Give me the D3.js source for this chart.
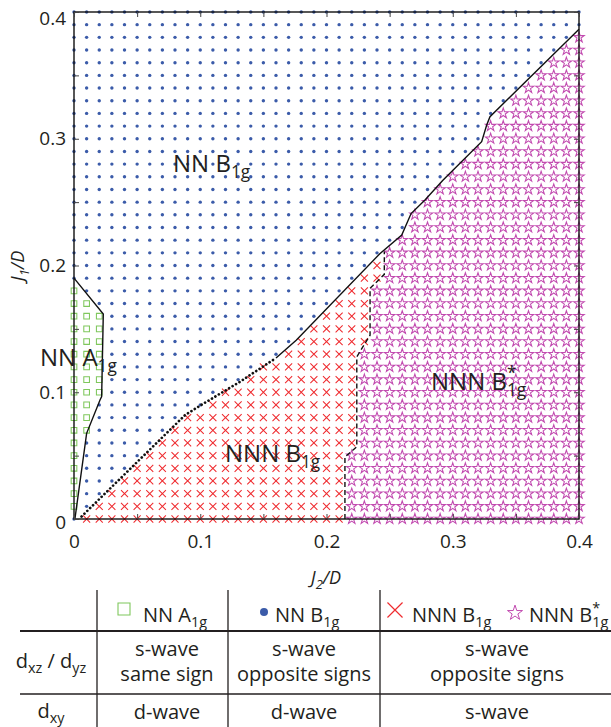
<!DOCTYPE html>
<html>
<head>
<meta charset="utf-8">
<script src="https://cdn.jsdelivr.net/npm/d3@7"></script>
<style>
  body { margin: 0; background: #fff; }
  svg { font-family: "Open Sans", sans-serif; fill: #231f20; }
</style>
</head>
<body>
<svg id="chart" width="611" height="727"></svg>
<script>
"use strict";

// grid of computed points, J2/D and J1/D both from 0 to 0.4
var gridJ2 = d3.range(41).map(function (i) { return i / 100; });
var gridJ1 = d3.range(41).map(function (i) { return i / 100; });

// highest J1 row (index) inside the NNN region, per J2 column
var nnnTopRow = [-1, 0, 1, 2, 3, 4, 5, 6, 7, 8, 8, 9, 10, 10, 11, 12, 12, 13, 14, 15,
  16, 17, 18, 19, 20, 21, 22, 24, 25, 26, 27, 28, 29, 31, 32, 33, 34, 35, 36, 37, 38];
// first J2 column of the starred phase, per J1 row
var starFromCol = [22, 22, 22, 22, 22, 22, 23, 23, 23, 23, 23, 23, 23, 23, 24, 24, 24, 24, 24,
  25, 25, 25, 25, 25, 25, 25, 25, 25, 25, 25, 25, 25, 25, 25, 25, 25, 25, 25, 25, 25, 25];
// NN A1g pocket: first columns only
var a1gBottomRow = [1, 7, 10];
var a1gTopRow = [18, 17, 16];

// phase boundaries
var a1gLineJ2 = [0, 0.0232, 0.0219, 0.0206, 0.010, 0.0008];
var a1gLineJ1 = [0.19, 0.1617, 0.0965, 0.0939, 0.0676, 0.0006];
var dottedJ2 = [0.006, 0.088, 0.100, 0.131, 0.160];
var dottedJ1 = [0.002, 0.082, 0.0895, 0.108, 0.127];
var solidJ2 = [0.160, 0.176, 0.242, 0.2596, 0.267, 0.278, 0.292, 0.3229, 0.3269, 0.3295, 0.400];
var solidJ1 = [0.127, 0.141, 0.209, 0.224, 0.241, 0.2517, 0.267, 0.2977, 0.3108, 0.3174, 0.3864];
var dashedJ2 = [0.2146, 0.2146, 0.224, 0.224, 0.2345, 0.2345, 0.2458, 0.2458];
var dashedJ1 = [0, 0.049, 0.057, 0.128, 0.145, 0.182, 0.193, 0.211];

var tickValues = [0, 0.05, 0.1, 0.15, 0.2, 0.25, 0.3, 0.35, 0.4];
var tickLabels = ["0", "", "0.1", "", "0.2", "", "0.3", "", "0.4"];

// table below the diagram
var rowLabels = [
  [{t: "d"}, {t: "xz", sub: true}, {t: " / d"}, {t: "yz", sub: true}],
  [{t: "d"}, {t: "xy", sub: true}]
];
var dxzCells = [["s-wave", "same sign"], ["s-wave", "opposite signs"], ["s-wave", "opposite signs"]];
var dxyCells = ["d-wave", "d-wave", "s-wave"];

var colors = {a1g: "#7fc75c", b1g: "#3b5ba9", nnn: "#ef2b2f", star: "#c24bb0"};

var svg = d3.select("#chart");
var x = d3.scaleLinear().domain([0, 0.4]).range([74, 579]);
var y = d3.scaleLinear().domain([0, 0.4]).range([519, 12]);

function richText(sel, px, py, parts, size, anchor) {
  var t = sel.append("text").attr("x", px).attr("y", py)
    .attr("font-size", size).attr("text-anchor", anchor || "start");
  var shift = 0, supW = 0;
  parts.forEach(function (p) {
    var dy, fs = null;
    if (p.sub) { dy = size * 0.25 - shift; shift = size * 0.25; fs = size * 0.72; }
    else if (p.sup) { dy = -size * 0.45 - shift; shift = -size * 0.45; fs = size * 0.72; }
    else { dy = -shift; shift = 0; }
    var ts = t.append("tspan").attr("dy", dy).text(p.t);
    if (fs) ts.attr("font-size", fs);
    if (p.sup) supW = ts.node().getComputedTextLength();
    if (p.sub && supW) { ts.attr("dx", -supW); supW = 0; }
  });
  return t;
}

// classify every grid point
var points = [];
gridJ2.forEach(function (j2, c) {
  gridJ1.forEach(function (j1, r) {
    var phase;
    if (c < a1gTopRow.length && r >= a1gBottomRow[c] && r <= a1gTopRow[c]) phase = "a1g";
    else if (r <= nnnTopRow[c]) phase = c >= starFromCol[r] ? "star" : "nnn";
    else phase = "b1g";
    points.push({j2: j2, j1: j1, phase: phase});
  });
});

var marks = svg.append("g");
marks.selectAll("circle").data(points.filter(function (d) { return d.phase === "b1g"; }))
  .enter().append("circle")
    .attr("cx", function (d) { return x(d.j2); })
    .attr("cy", function (d) { return y(d.j1); })
    .attr("r", 1.7)
    .attr("fill", colors.b1g);

var symbols = {
  a1g: d3.symbol().type(d3.symbolSquare).size(32),
  nnn: d3.symbol().type(d3.symbolTimes).size(34),
  star: d3.symbol().type(d3.symbolStar).size(34)
};
["a1g", "nnn", "star"].forEach(function (ph) {
  marks.append("g").selectAll("path")
    .data(points.filter(function (d) { return d.phase === ph; }))
    .enter().append("path")
      .attr("d", symbols[ph])
      .attr("transform", function (d) { return "translate(" + x(d.j2) + "," + y(d.j1) + ")"; })
      .attr("fill", "none")
      .attr("stroke", colors[ph])
      .attr("stroke-width", 1.05);
});

// boundaries
function drawLine(j2s, j1s, dash, width, cap) {
  var line = d3.line().x(function (d) { return x(d[0]); }).y(function (d) { return y(d[1]); });
  svg.append("path")
    .attr("d", line(d3.zip(j2s, j1s)))
    .attr("fill", "none")
    .attr("stroke", "#111")
    .attr("stroke-width", width)
    .attr("stroke-linecap", cap || "butt")
    .attr("stroke-dasharray", dash);
}
drawLine(a1gLineJ2, a1gLineJ1, null, 1.4);
drawLine(solidJ2, solidJ1, null, 1.4);
drawLine(dottedJ2, dottedJ1, "0.01,4", 2.7, "round");
drawLine(dashedJ2, dashedJ1, "5,3", 1.4);

// frame and ticks
svg.append("rect")
  .attr("x", x(0)).attr("y", y(0.4))
  .attr("width", x(0.4) - x(0)).attr("height", y(0) - y(0.4))
  .attr("fill", "none").attr("stroke", "#111").attr("stroke-width", 1.4);

function fmt(d, i) { return tickLabels[i]; }
var axes = [
  svg.append("g").attr("transform", "translate(0," + y(0) + ")")
    .call(d3.axisBottom(x).tickValues(tickValues).tickFormat(fmt).tickSizeInner(-5).tickSizeOuter(0).tickPadding(16)),
  svg.append("g").attr("transform", "translate(" + x(0) + ",0)")
    .call(d3.axisLeft(y).tickValues(tickValues).tickFormat(fmt).tickSizeInner(-5).tickSizeOuter(0).tickPadding(8)),
  svg.append("g").attr("transform", "translate(0," + y(0.4) + ")")
    .call(d3.axisTop(x).tickValues(tickValues).tickFormat("").tickSizeInner(-5).tickSizeOuter(0)),
  svg.append("g").attr("transform", "translate(" + x(0.4) + ",0)")
    .call(d3.axisRight(y).tickValues(tickValues).tickFormat("").tickSizeInner(-5).tickSizeOuter(0))
];
axes.forEach(function (a) {
  a.select(".domain").remove();
  a.selectAll(".tick line").attr("stroke", "#444");
  a.selectAll("text").attr("font-family", "Open Sans").attr("font-size", 19).attr("fill", "#231f20");
});
// the end labels of the J1 axis sit a little lower in the original
axes[1].selectAll(".tick text")
  .attr("y", function (d) { return d === 0.4 ? 6 : (d === 0 ? 3 : 0); });

// axis titles
richText(svg, 326, 584, [{t: "J"}, {t: "2", sub: true}, {t: "/D"}], 18, "middle")
  .attr("font-style", "italic");
richText(svg.append("g").attr("transform", "translate(24,266) rotate(-90)"), 0, 0,
  [{t: "J"}, {t: "1", sub: true}, {t: "/D"}], 18, "middle")
  .attr("font-style", "italic");

// phase labels
richText(svg, 173, 172, [{t: "NN B"}, {t: "1g", sub: true}], 24);
richText(svg, 40, 366, [{t: "NN A"}, {t: "1g", sub: true}], 24);
richText(svg, 225, 462, [{t: "NNN B"}, {t: "1g", sub: true}], 24);
richText(svg, 431, 390, [{t: "NNN B"}, {t: "*", sup: true}, {t: "1g", sub: true}], 24);

// table
var tbl = svg.append("g");
var colLines = [97, 228, 380];
var colCenters = [51, 167, 304, 497];
tbl.selectAll("line.v").data(colLines).enter().append("line")
  .attr("x1", function (d) { return d; }).attr("x2", function (d) { return d; })
  .attr("y1", 590).attr("y2", 727)
  .attr("stroke", "#231f20").attr("stroke-width", 1.3);
tbl.append("line").attr("x1", 20).attr("x2", 611).attr("y1", 631).attr("y2", 631)
  .attr("stroke", "#231f20").attr("stroke-width", 2.2);
tbl.append("line").attr("x1", 20).attr("x2", 611).attr("y1", 694).attr("y2", 694)
  .attr("stroke", "#231f20").attr("stroke-width", 1.3);

// header with markers
tbl.append("path").attr("d", d3.symbol().type(d3.symbolSquare).size(144))
  .attr("transform", "translate(124,609)")
  .attr("fill", "none").attr("stroke", colors.a1g).attr("stroke-width", 1.1);
richText(tbl, 143, 622, [{t: "NN A"}, {t: "1g", sub: true}], 20);
tbl.append("circle").attr("cx", 264).attr("cy", 612).attr("r", 4).attr("fill", colors.b1g);
richText(tbl, 275, 622, [{t: "NN B"}, {t: "1g", sub: true}], 20);
tbl.append("path").attr("d", d3.symbol().type(d3.symbolTimes).size(150))
  .attr("transform", "translate(395,610)")
  .attr("fill", "none").attr("stroke", colors.nnn).attr("stroke-width", 1.2);
richText(tbl, 412, 622, [{t: "NNN B"}, {t: "1g", sub: true}], 20);
tbl.append("path").attr("d", d3.symbol().type(d3.symbolStar).size(70))
  .attr("transform", "translate(515,613)")
  .attr("fill", "none").attr("stroke", colors.star).attr("stroke-width", 1);
richText(tbl, 529, 622, [{t: "NNN B"}, {t: "*", sup: true}, {t: "1g", sub: true}], 20);

richText(tbl, colCenters[0], 668, rowLabels[0], 20, "middle");
richText(tbl, colCenters[0], 718, rowLabels[1], 20, "middle");
dxzCells.forEach(function (cell, i) {
  cell.forEach(function (s, k) {
    tbl.append("text").attr("x", colCenters[i + 1]).attr("y", 656 + k * 25)
      .attr("text-anchor", "middle").attr("font-size", 20).text(s);
  });
});
dxyCells.forEach(function (s, i) {
  tbl.append("text").attr("x", colCenters[i + 1]).attr("y", 719)
    .attr("text-anchor", "middle").attr("font-size", 20).text(s);
});
</script>
</body>
</html>
